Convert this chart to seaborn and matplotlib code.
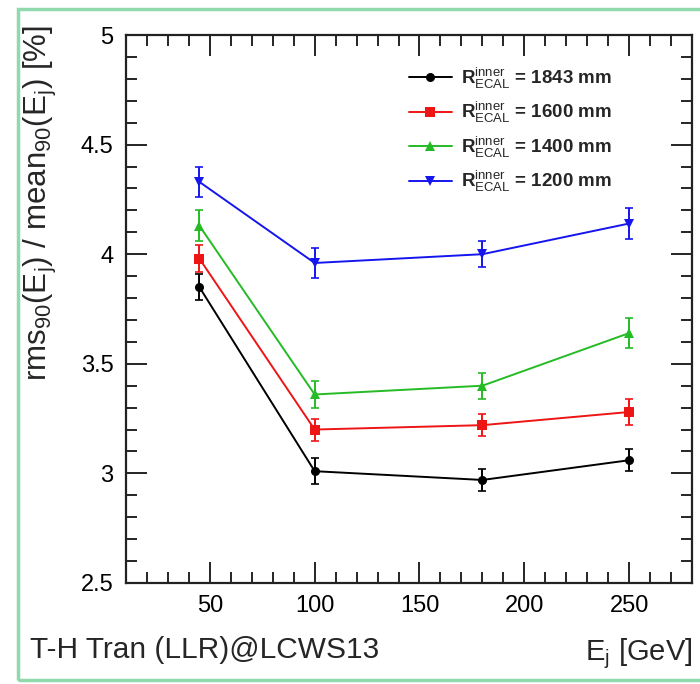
import numpy as np
import pandas as pd
import seaborn as sns
import matplotlib.pyplot as plt
from matplotlib.patches import Rectangle
from matplotlib.ticker import MultipleLocator

# data
energies = [45, 100, 180, 250]
radii = ['1843', '1600', '1400', '1200']
res_1843 = [3.85, 3.01, 2.97, 3.06]
res_1600 = [3.98, 3.20, 3.22, 3.28]
res_1400 = [4.13, 3.36, 3.40, 3.64]
res_1200 = [4.33, 3.96, 4.00, 4.14]
err_1843 = [0.06, 0.06, 0.05, 0.05]
err_1600 = [0.06, 0.05, 0.05, 0.06]
err_1400 = [0.07, 0.06, 0.06, 0.07]
err_1200 = [0.07, 0.07, 0.06, 0.07]

values = [res_1843, res_1600, res_1400, res_1200]
errors = [err_1843, err_1600, err_1400, err_1200]
colors = ['black', '#ee1515', '#25bb25', '#1515ee']
markers = ['o', 's', '^', 'v']

rows = []
for r, v, e in zip(radii, values, errors):
    for x, y, ee in zip(energies, v, e):
        rows.append({'E': x, 'res': y, 'err': ee, 'R': r})
df = pd.DataFrame(rows)

sns.set_style('ticks')
plt.rcParams['font.family'] = ['Liberation Sans', 'DejaVu Sans']
plt.rcParams['mathtext.fontset'] = 'custom'
plt.rcParams['mathtext.rm'] = 'Liberation Sans'
plt.rcParams['mathtext.it'] = 'Liberation Sans'

fig = plt.figure(figsize=(7, 6.84), dpi=100)
ax = fig.add_axes([0.18, 0.1477, 0.8086, 0.8011])

sns.lineplot(data=df, x='E', y='res', hue='R', style='R', hue_order=radii, style_order=radii,
             palette=dict(zip(radii, colors)), markers=dict(zip(radii, markers)),
             dashes=False, markersize=6.5, markeredgewidth=0, linewidth=1.4, ax=ax, legend=False)

# error bars
for r, c in zip(radii, colors):
    sub = df[df['R'] == r]
    ax.errorbar(sub['E'], sub['res'], yerr=sub['err'], fmt='none', ecolor=c,
                elinewidth=1.4, capsize=3, capthick=1.2)

ax.set_xlim(10, 280)
ax.set_ylim(2.5, 5)
ax.xaxis.set_major_locator(MultipleLocator(50))
ax.xaxis.set_minor_locator(MultipleLocator(10))
ax.yaxis.set_major_locator(MultipleLocator(0.5))
ax.yaxis.set_minor_locator(MultipleLocator(0.1))
ax.set_xticks([50, 100, 150, 200, 250])
ax.set_yticks([2.5, 3, 3.5, 4, 4.5, 5])
ax.set_yticklabels(['2.5', '3', '3.5', '4', '4.5', '5'])
ax.tick_params(which='both', direction='in', top=True, right=True, labelsize=17, colors='black')
ax.tick_params(which='major', length=15, width=1.2, pad=9)
ax.tick_params(which='minor', length=8, width=1.2)
for s in ax.spines.values():
    s.set_linewidth(1.6)
    s.set_color('#222222')

ax.set_ylabel(r'rms$_{90}$(E$_{\rm j}$) / mean$_{90}$(E$_{\rm j}$) [%]', fontsize=22.5, loc='top')
ax.yaxis.set_label_coords(-0.118, 1.018)
ax.set_xlabel(r'E$_{\rm j}$ [GeV]', fontsize=21, loc='right')
ax.xaxis.set_label_coords(1.0, -0.098)

# legend
handles = [plt.Line2D([], [], color=c, marker=m, markersize=6.5, markeredgewidth=0, linewidth=1.4)
           for c, m in zip(colors, markers)]
labels = [r'R$^{\rm inner}_{\rm ECAL}$ = ' + r + ' mm' for r in radii]
ax.legend(handles, labels, loc='upper left', bbox_to_anchor=(0.47, 0.975), frameon=False,
          prop={'weight': 'bold', 'size': 13.5}, handlelength=2.3, labelspacing=0.5,
          handletextpad=0.5)

fig.text(30 / 700, 1 - 650 / 684, 'T-H Tran (LLR)@LCWS13', fontsize=21.5, va='center', ha='left')

# green frame around the slide
fig.patches.append(Rectangle((18 / 700, 1 - 680 / 684), 0.99, (680 - 9) / 684,
                             transform=fig.transFigure, fill=False, edgecolor='#8fd9ac',
                             linewidth=2.5, clip_on=False))

fig.savefig('out.png', dpi=100)
